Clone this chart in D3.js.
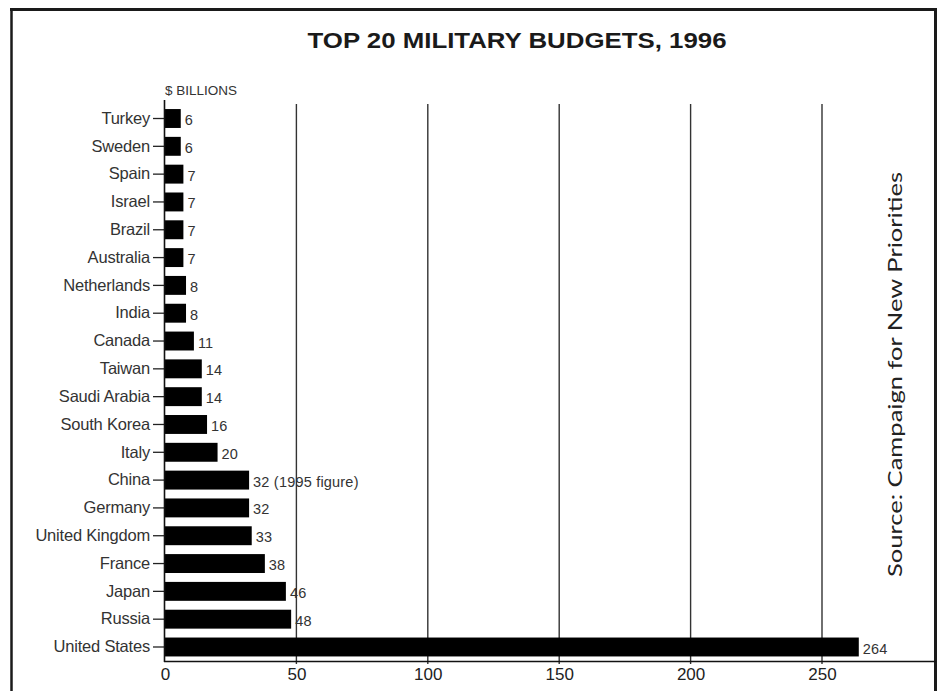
<!DOCTYPE html>
<html>
<head>
<meta charset="utf-8">
<script src="https://cdn.jsdelivr.net/npm/d3@7"></script>
<style>
  html, body { margin: 0; padding: 0; background: #fff; }
  svg { display: block; }
</style>
</head>
<body>
<script>
const countries = ["Turkey","Sweden","Spain","Israel","Brazil","Australia","Netherlands","India","Canada","Taiwan","Saudi Arabia","South Korea","Italy","China","Germany","United Kingdom","France","Japan","Russia","United States"];
const values = [6,6,7,7,7,7,8,8,11,14,14,16,20,32,32,33,38,46,48,264];
const notes = {"China": " (1995 figure)"};
const xTicks = [0,50,100,150,200,250];
const titleText = "TOP 20 MILITARY BUDGETS, 1996";
const unitText = "$ BILLIONS";
const sourceText = "Source: Campaign for New Priorities";

const W = 938, H = 691;
const svg = d3.select("body").append("svg").attr("width", W).attr("height", H);
svg.append("rect").attr("width", W).attr("height", H).attr("fill", "#fff");

const x = d3.scaleLinear().domain([0, 250]).range([165, 822]);
const y = d3.scaleBand().domain(countries).range([104.6, 660.9]).paddingInner(0.32).paddingOuter(0.16);

// frame
svg.append("line").attr("x1", 10).attr("x2", 937).attr("y1", 9.5).attr("y2", 9.5).attr("stroke", "#1a1a1a").attr("stroke-width", 3);
svg.append("line").attr("x1", 11.5).attr("x2", 11.5).attr("y1", 8).attr("y2", H).attr("stroke", "#1a1a1a").attr("stroke-width", 2.5);
svg.append("line").attr("x1", 935.5).attr("x2", 935.5).attr("y1", 8).attr("y2", H).attr("stroke", "#1a1a1a").attr("stroke-width", 3);

// gridlines
svg.append("g").selectAll("line").data(xTicks.filter(d => d > 0)).join("line")
  .attr("x1", d => x(d)).attr("x2", d => x(d))
  .attr("y1", 104).attr("y2", 664)
  .attr("stroke", "#333").attr("stroke-width", 1.4);

// bars
svg.append("g").selectAll("rect").data(countries).join("rect")
  .attr("x", x(0))
  .attr("y", d => y(d))
  .attr("width", (d, i) => x(values[i]) - x(0))
  .attr("height", y.bandwidth())
  .attr("fill", "#000");

// value labels
svg.append("g").selectAll("text").data(countries).join("text")
  .attr("x", (d, i) => x(values[i]) + 4)
  .attr("y", d => y(d) + y.bandwidth() / 2)
  .attr("dy", "0.45em")
  .attr("font-family", "Liberation Sans, Arial, sans-serif")
  .attr("font-size", 14.5)
  .attr("letter-spacing", 0.2)
  .attr("fill", "#333")
  .text((d, i) => values[i] + (notes[d] || ""));

// y axis
const yAxis = svg.append("g").attr("transform", `translate(${x(0)},0)`)
  .call(d3.axisLeft(y).tickSize(12).tickPadding(3).tickSizeOuter(0));
yAxis.select(".domain").remove();
yAxis.selectAll(".tick line").attr("stroke", "#222").attr("stroke-width", 1.3);
yAxis.selectAll(".tick text")
  .attr("font-family", "Liberation Sans, Arial, sans-serif")
  .attr("font-size", 16.5)
  .attr("letter-spacing", -0.2)
  .attr("fill", "#333");
svg.append("line").attr("x1", x(0) - 0.5).attr("x2", x(0) - 0.5).attr("y1", 100).attr("y2", 662)
  .attr("stroke", "#111").attr("stroke-width", 1.6);

// x axis
const xAxis = svg.append("g").attr("transform", "translate(0,661)")
  .call(d3.axisBottom(x).tickValues(xTicks).tickSize(0).tickPadding(7).tickSizeOuter(0));
xAxis.select(".domain").remove();
xAxis.selectAll(".tick text")
  .attr("font-family", "Liberation Sans, Arial, sans-serif")
  .attr("font-size", 17)
  .attr("fill", "#222");
svg.append("line").attr("x1", x(0) - 1).attr("x2", 936).attr("y1", 661.5).attr("y2", 661.5)
  .attr("stroke", "#111").attr("stroke-width", 1.6);

// title
svg.append("text")
  .attr("x", 517).attr("y", 48)
  .attr("text-anchor", "middle")
  .attr("font-family", "Liberation Sans, Arial, sans-serif")
  .attr("font-weight", "bold")
  .attr("font-size", 22)
  .attr("textLength", 419).attr("lengthAdjust", "spacingAndGlyphs")
  .attr("fill", "#1a1a1a")
  .text(titleText);

// unit label
svg.append("text")
  .attr("x", 165).attr("y", 95)
  .attr("font-family", "Liberation Sans, Arial, sans-serif")
  .attr("font-size", 12)
  .attr("textLength", 72).attr("lengthAdjust", "spacingAndGlyphs")
  .attr("fill", "#333")
  .text(unitText);

// source
svg.append("text")
  .attr("transform", "translate(902,374.5) rotate(-90)")
  .attr("text-anchor", "middle")
  .attr("font-family", "Lato, 'Open Sans', sans-serif")
  .attr("font-weight", 400)
  .attr("font-size", 20)
  .attr("textLength", 405).attr("lengthAdjust", "spacingAndGlyphs")
  .attr("fill", "#222")
  .text(sourceText);
</script>
</body>
</html>
